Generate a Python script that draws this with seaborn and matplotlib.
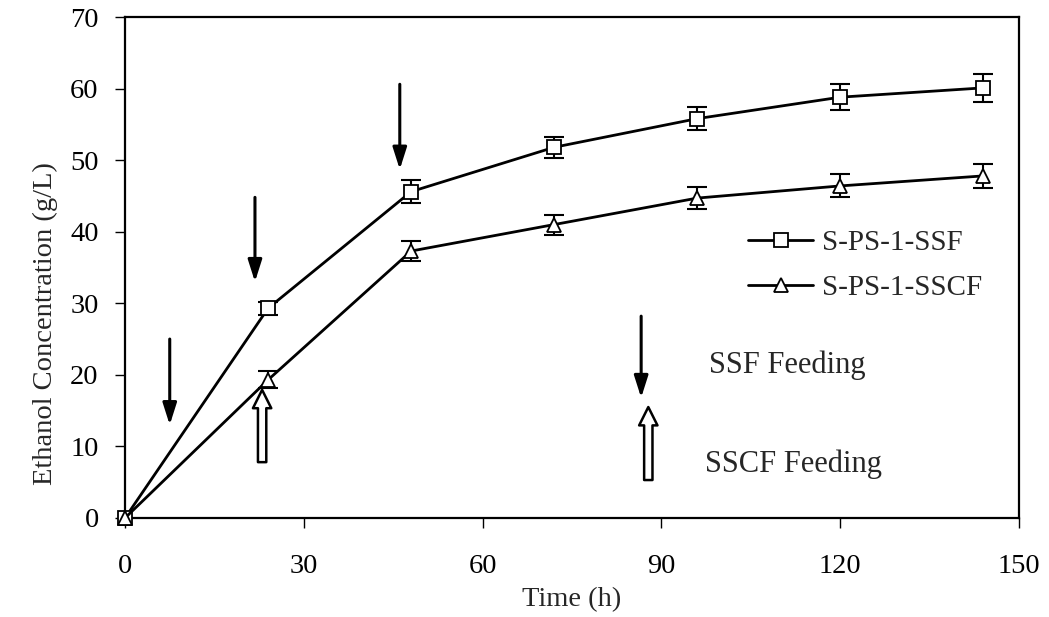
import numpy as np
import pandas as pd
import matplotlib
matplotlib.use("Agg")
import matplotlib.pyplot as plt
import seaborn as sns

time_h = [0, 24, 48, 72, 96, 120, 144]
ssf_conc = [0.0, 29.3, 45.6, 51.8, 55.8, 58.8, 60.1]
ssf_err = [0.3, 0.9, 1.6, 1.5, 1.6, 1.8, 2.0]
sscf_conc = [0.0, 19.3, 37.3, 41.0, 44.7, 46.4, 47.8]
sscf_err = [0.3, 1.2, 1.4, 1.4, 1.5, 1.6, 1.7]
series_names = ["S-PS-1-SSF", "S-PS-1-SSCF"]

# feeding arrows: (time, start level, end level)
ssf_feeds = [(7.5, 25.0, 13.0), (21.8, 44.8, 33.0), (46.1, 60.6, 48.7)]
sscf_feeds = [(23.0, 7.8, 17.9)]

sns.set_theme(style="white")
plt.rcParams["font.family"] = ["Liberation Serif", "DejaVu Serif"]

df = pd.DataFrame({
    "Time": time_h * 2,
    "Conc": ssf_conc + sscf_conc,
    "Series": [series_names[0]] * len(time_h) + [series_names[1]] * len(time_h),
})

fig, ax = plt.subplots(figsize=(10.49, 6.17), dpi=100)
fig.subplots_adjust(left=0.1192, right=0.9714, top=0.9724, bottom=0.1605)

sns.lineplot(data=df, x="Time", y="Conc", hue="Series", style="Series",
             markers={series_names[0]: "s", series_names[1]: "^"}, dashes=False,
             palette={series_names[0]: "black", series_names[1]: "black"},
             markersize=9.5, markerfacecolor="white", markeredgecolor="black",
             markeredgewidth=1.3, linewidth=2.0, ax=ax, zorder=3, legend=True,
             clip_on=False)

for y, e in [(ssf_conc, ssf_err), (sscf_conc, sscf_err)]:
    ax.errorbar(time_h[1:], y[1:], yerr=e[1:], fmt="none", ecolor="black",
                elinewidth=1.5, capsize=7, capthick=1.5, zorder=2)

black_arrow = dict(arrowstyle="-|>,head_width=0.35,head_length=1.1",
                   color="black", lw=2.2, shrinkA=0, shrinkB=0)
hollow_arrow = dict(arrowstyle="simple,head_width=1.1,head_length=1.1,tail_width=0.5",
                    fc="white", ec="black", lw=1.8, shrinkA=0, shrinkB=0)

for t, y0, y1 in ssf_feeds:
    ax.annotate("", xy=(t, y1), xytext=(t, y0), arrowprops=black_arrow, zorder=4)
for t, y0, y1 in sscf_feeds:
    ax.annotate("", xy=(t, y1), xytext=(t, y0), arrowprops=hollow_arrow, zorder=4)

# key for the arrow symbols
ax.annotate("", xy=(86.6, 16.8), xytext=(86.6, 28.2), arrowprops=black_arrow)
ax.annotate("", xy=(87.8, 15.5), xytext=(87.8, 5.3), arrowprops=hollow_arrow)
ax.text(98.0, 21.4, "SSF Feeding", fontsize=22, va="center", ha="left")
ax.text(97.3, 7.5, "SSCF Feeding", fontsize=22, va="center", ha="left")

ax.set_xlim(0, 150)
ax.set_ylim(0, 70)
ax.set_xticks([0, 30, 60, 90, 120, 150])
ax.set_yticks(range(0, 71, 10))
ax.set_xlabel("Time (h)", fontsize=20.5, labelpad=6)
ax.set_ylabel("Ethanol Concentration (g/L)", fontsize=20.5)
ax.yaxis.set_label_coords(-0.075, 0.388)
ax.tick_params(axis="both", labelsize=20.5, direction="out", length=7, width=1.0,
               colors="black", bottom=True, left=True)
ax.tick_params(axis="x", pad=19)
ax.tick_params(axis="y", pad=12)
for s in ax.spines.values():
    s.set_color("black")
    s.set_linewidth(1.6)

handles, labels = ax.get_legend_handles_labels()
leg = ax.legend(handles, labels, loc="upper left", bbox_to_anchor=(0.697, 0.576),
                frameon=False, fontsize=21, handlelength=2.24, handletextpad=0.3,
                labelspacing=0.65, borderpad=0, borderaxespad=0)
for h in leg.legend_handles:
    h.set_markerfacecolor("white")
    h.set_markeredgecolor("black")

fig.savefig("out.png", dpi=100)
